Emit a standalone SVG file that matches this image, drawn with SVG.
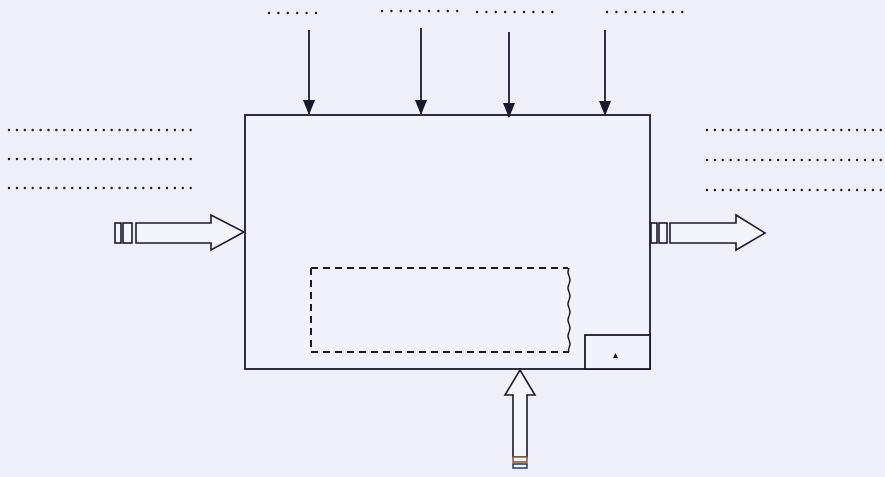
<svg xmlns="http://www.w3.org/2000/svg" width="885" height="477" viewBox="0 0 885 477">
<style>
.ln{stroke:#1a1a2e;stroke-width:1.8;fill:none}
.blk{stroke:#1a1a2e;stroke-width:1.6;fill:#f4f5fb;stroke-linejoin:miter}
.dot{stroke:#1a1a2e;stroke-width:2.4;stroke-linecap:round;fill:none}
.dt{stroke-dasharray:0 9.4}
.ds{stroke-dasharray:0 7.9}
.dash{stroke:#1a1a2e;stroke-width:2;stroke-dasharray:7 5;fill:none}
</style>
<defs>
<marker id="ah" markerWidth="15" markerHeight="12" refX="14" refY="6" orient="auto" markerUnits="userSpaceOnUse" viewBox="0 0 15 12">
<path d="M0,0 L15,6 L0,12 Z" fill="#1a1a2e"/>
</marker>
</defs>
<rect width="885" height="477" fill="#eeeff9"/>
<g id="labels">
<line class="dot dt" x1="269" y1="13" x2="316.5" y2="13"/>
<line class="dot dt" x1="382" y1="11" x2="457.5" y2="11"/>
<line class="dot dt" x1="477" y1="12" x2="552.5" y2="12"/>
<line class="dot dt" x1="607" y1="12" x2="682.5" y2="12"/>
<line class="dot ds" x1="9" y1="130" x2="191" y2="130"/>
<line class="dot ds" x1="9" y1="159" x2="191" y2="159"/>
<line class="dot ds" x1="9" y1="188" x2="191" y2="188"/>
<line class="dot ds" x1="707" y1="130" x2="885" y2="130"/>
<line class="dot ds" x1="707" y1="160" x2="885" y2="160"/>
<line class="dot ds" x1="707" y1="190" x2="885" y2="190"/>
</g>
<g id="main-box">
<rect x="245" y="115" width="405" height="254" fill="#f1f2fb" stroke="#1a1a2e" stroke-width="1.8"/>
</g>
<g id="inner-dashed">
<path class="dash" d="M311,268 H568"/>
<path class="dash" d="M311,268 V352"/>
<path class="dash" d="M311,352 H569"/>
<path d="M569,268 q-2,4 0,8 q2,4 0,8 q-2,4 0,8 q2,4 0,8 q-2,4 0,8 q2,4 0,8 q-2,4 0,8 q2,4 0,8 q-2,4 0,8 q2,4 0,8 q-1,2 0,4" stroke="#1a1a2e" stroke-width="1.4" fill="none"/>
</g>
<g id="corner-box">
<rect x="585" y="335" width="65" height="34" fill="#f1f2fb" stroke="#1a1a2e" stroke-width="1.8"/>
<path d="M613,358 L615.5,353 L618,358 Z" fill="#1a1a2e"/>
</g>
<g id="connectors">
<line class="ln" x1="309" y1="30" x2="309" y2="114" marker-end="url(#ah)"/>
<line class="ln" x1="421" y1="28" x2="421" y2="114" marker-end="url(#ah)"/>
<line class="ln" x1="509" y1="32" x2="509" y2="117" marker-end="url(#ah)"/>
<line class="ln" x1="605" y1="30" x2="605" y2="115" marker-end="url(#ah)"/>
<g id="input-arrow">
<rect x="115" y="223" width="6" height="20" class="blk"/>
<rect x="123" y="223" width="9" height="20" class="blk"/>
<path class="blk" d="M136,223 H211 V215 L244,232 L211,250 V243 H136 Z"/>
</g>
<g id="output-arrow">
<rect x="651" y="223" width="6" height="20" class="blk"/>
<rect x="659" y="223" width="8" height="20" class="blk"/>
<path class="blk" d="M670,223 H736 V215 L765,233 L736,250 V243 H670 Z"/>
</g>
<g id="mechanism-arrow">
<path class="blk" d="M513,457 V395 H505 L520,370 L535,395 H527 V457 Z"/>
<rect x="513" y="457" width="14" height="5" fill="#f4f5fb" stroke="#8a5a2a" stroke-width="1.5"/>
<rect x="513" y="464" width="14" height="4" fill="#f4f5fb" stroke="#1a3a6e" stroke-width="1.5"/>
</g>
</g>
</svg>
